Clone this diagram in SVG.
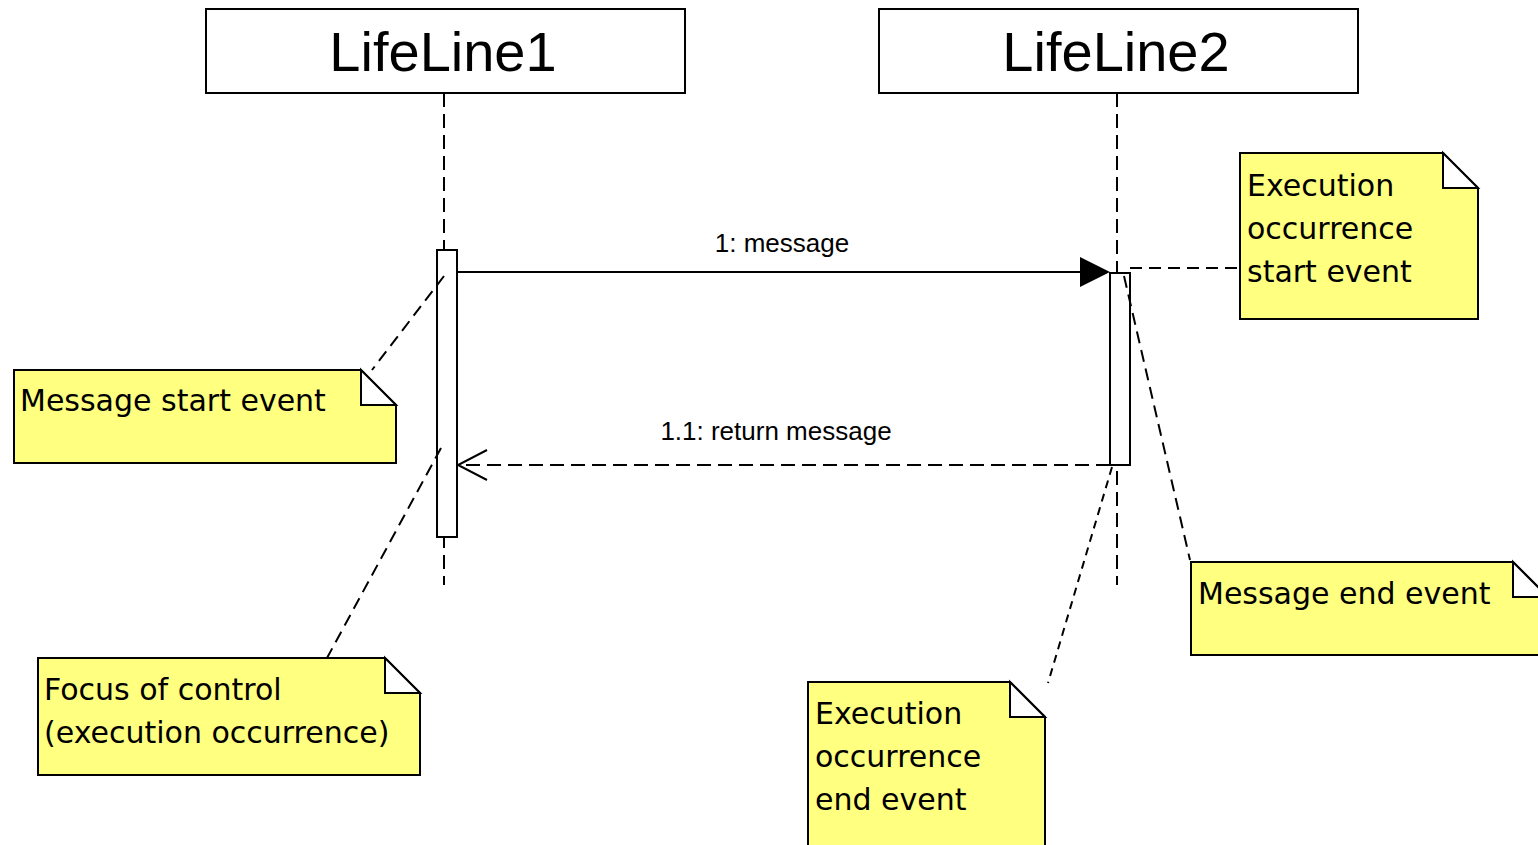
<svg xmlns="http://www.w3.org/2000/svg" width="1538" height="845" viewBox="0 0 1538 845">
<style>
.box{fill:#fff;stroke:#000;stroke-width:2}
.title{font-family:"Liberation Sans",Arial,sans-serif;font-size:56px;fill:#000;text-anchor:middle}
.life{stroke:#000;stroke-width:2;stroke-dasharray:14 7;fill:none}
.act{fill:#fff;stroke:#000;stroke-width:2}
.note{fill:#ffff80;stroke:#000;stroke-width:2}
.fold{fill:#fff;stroke:#000;stroke-width:2}
.nt{font-family:"DejaVu Sans",sans-serif;font-size:30px;fill:#000}
.ml{font-family:"Liberation Sans",Arial,sans-serif;font-size:26px;fill:#000;text-anchor:middle}
.link{stroke:#000;stroke-width:2;stroke-dasharray:12 7;fill:none}
.link2{stroke:#000;stroke-width:2;stroke-dasharray:8 6;fill:none}
</style>
<rect width="1538" height="845" fill="#fff"/>
<g id="lifeline1">
<rect class="box" x="206" y="9" width="479" height="84"/>
<text class="title" x="443" y="71">LifeLine1</text>
<line class="life" x1="444" y1="93" x2="444" y2="585"/>
<rect class="act" x="437" y="250" width="20" height="287"/>
</g>
<g id="lifeline2">
<rect class="box" x="879" y="9" width="479" height="84"/>
<text class="title" x="1116" y="71">LifeLine2</text>
<line class="life" x1="1117" y1="93" x2="1117" y2="585"/>
<rect class="act" x="1110" y="273" width="20" height="192"/>
</g>
<g id="note-exec-start">
<path class="note" d="M1240 153 H1443 L1478 188 V319 H1240 Z"/>
<path class="fold" d="M1443 153 V188 H1478 Z"/>
<text class="nt" x="1247" y="196">Execution</text>
<text class="nt" x="1247" y="239">occurrence</text>
<text class="nt" x="1247" y="282">start event</text>
</g>
<g id="note-msg-start">
<path class="note" d="M14 370 H361 L396 405 V463 H14 Z"/>
<path class="fold" d="M361 370 V405 H396 Z"/>
<text class="nt" x="20" y="411">Message start event</text>
</g>
<g id="note-focus">
<path class="note" d="M38 658 H385 L420 693 V775 H38 Z"/>
<path class="fold" d="M385 658 V693 H420 Z"/>
<text class="nt" x="44" y="700">Focus of control</text>
<text class="nt" x="44" y="743">(execution occurrence)</text>
</g>
<g id="note-exec-end">
<path class="note" d="M808 682 H1010 L1045 717 V850 H808 Z"/>
<path class="fold" d="M1010 682 V717 H1045 Z"/>
<text class="nt" x="815" y="724">Execution</text>
<text class="nt" x="815" y="767">occurrence</text>
<text class="nt" x="815" y="810">end event</text>
</g>
<g id="note-msg-end">
<path class="note" d="M1191 562 H1513 L1548 597 V655 H1191 Z"/>
<path class="fold" d="M1513 562 V597 H1548 Z"/>
<text class="nt" x="1198" y="604">Message end event</text>
</g>
<g id="connectors">
<line x1="457" y1="272" x2="1082" y2="272" stroke="#000" stroke-width="2"/>
<path d="M1080 257 L1110 272 L1080 287 Z" fill="#000"/>
<text class="ml" x="782" y="252">1: message</text>
<line class="life" x1="1110" y1="465" x2="459" y2="465"/>
<path d="M487 450 L458 465 L487 480" fill="none" stroke="#000" stroke-width="2"/>
<text class="ml" x="776" y="440">1.1: return message</text>
<line class="link" x1="1130" y1="268" x2="1240" y2="268"/>
<line class="link" x1="444" y1="276" x2="372" y2="370"/>
<line class="link" x1="441" y1="448" x2="327" y2="658"/>
<line class="link2" x1="1112" y1="467" x2="1048" y2="683"/>
<line class="link" x1="1124" y1="276" x2="1190" y2="560"/>
</g>
</svg>
